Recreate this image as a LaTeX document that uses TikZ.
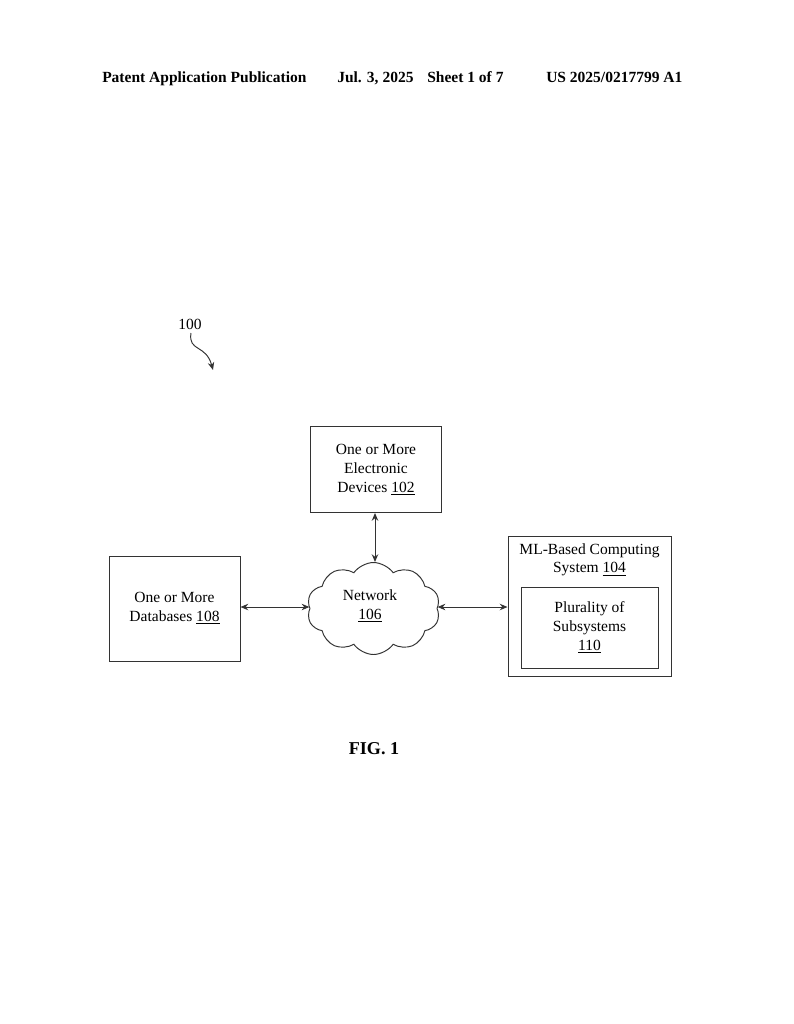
\documentclass[tikz,border=0pt]{standalone}
\usepackage{fontspec}
\setmainfont{Liberation Serif}
\usetikzlibrary{shapes.symbols,arrows.meta}
\begin{document}
\begin{tikzpicture}[x=0.7737pt,y=-0.7737pt,
  box/.style={draw=black!80,line width=0.75pt,align=center,inner sep=0pt,font=\fontsize{12}{14.6}\selectfont},
  lbl/.style={align=center,inner sep=0pt,font=\fontsize{12}{14.6}\selectfont},
  conn/.style={draw=black!80,line width=0.75pt,{Stealth[length=6pt,width=5pt]}-{Stealth[length=6pt,width=5pt]}},
  hdr/.style={font=\bfseries\fontsize{12}{14}\selectfont,anchor=base west,inner sep=0pt}]
\useasboundingbox (0,0) rectangle (794,1024);
% header
\node[hdr] (h1) at (102,82) {Patent Application Publication};
\node[hdr] (h2) at (337,82) {Jul. 3, 2025};
\node[hdr] (h3) at (427,82) {Sheet 1 of 7};
\node[hdr] (h4) at (546,82) {US 2025/0217799 A1};
% reference label
\node[lbl] (ref) at (190,324) {100};
\coordinate (refend) at (213,370);
\draw[draw=black!80,line width=0.75pt,-{Stealth[length=6pt,width=5pt]}] (191,333) .. controls (188,352) and (206,344) .. (refend);
% boxes
\node[box,minimum width=101.35pt,minimum height=66.54pt] (dev) at (376,469.5) {One or More\\Electronic\\Devices \underline{102}};
\node[box,minimum width=101.35pt,minimum height=81.24pt] (db) at (174.5,608.5) {One or More\\Databases \underline{108}};
\node[box,minimum width=126.11pt,minimum height=108.32pt] (ml) at (589.5,606) {};
\node[lbl,anchor=north] (mlt) at (589.5,543) {ML-Based Computing\\System \underline{104}};
\node[box,minimum width=106pt,minimum height=62.67pt] (sub) at (589.5,627.5) {Plurality of\\Subsystems\\\underline{110}};
% cloud
\node[cloud,draw=black!80,line width=0.75pt,cloud puffs=10,cloud puff arc=110,aspect=1.45,
  minimum width=102.9pt,minimum height=71.18pt,inner sep=0pt] (net) at (373.5,608.5) {};
\node[lbl] (nett) at (370,606) {Network\\\underline{106}};
% connectors
\draw[conn] (db.east |- 0,607) -- (net.west |- 0,607);
\draw[conn] (net.east |- 0,607) -- (ml.west |- 0,607);
\draw[conn] (dev.south -| 375,0) -- (net.north -| 375,0);
% figure label
\node[font=\bfseries\fontsize{14}{16}\selectfont,inner sep=0pt] (fig) at (374,749) {FIG. 1};
\end{tikzpicture}
\end{document}
